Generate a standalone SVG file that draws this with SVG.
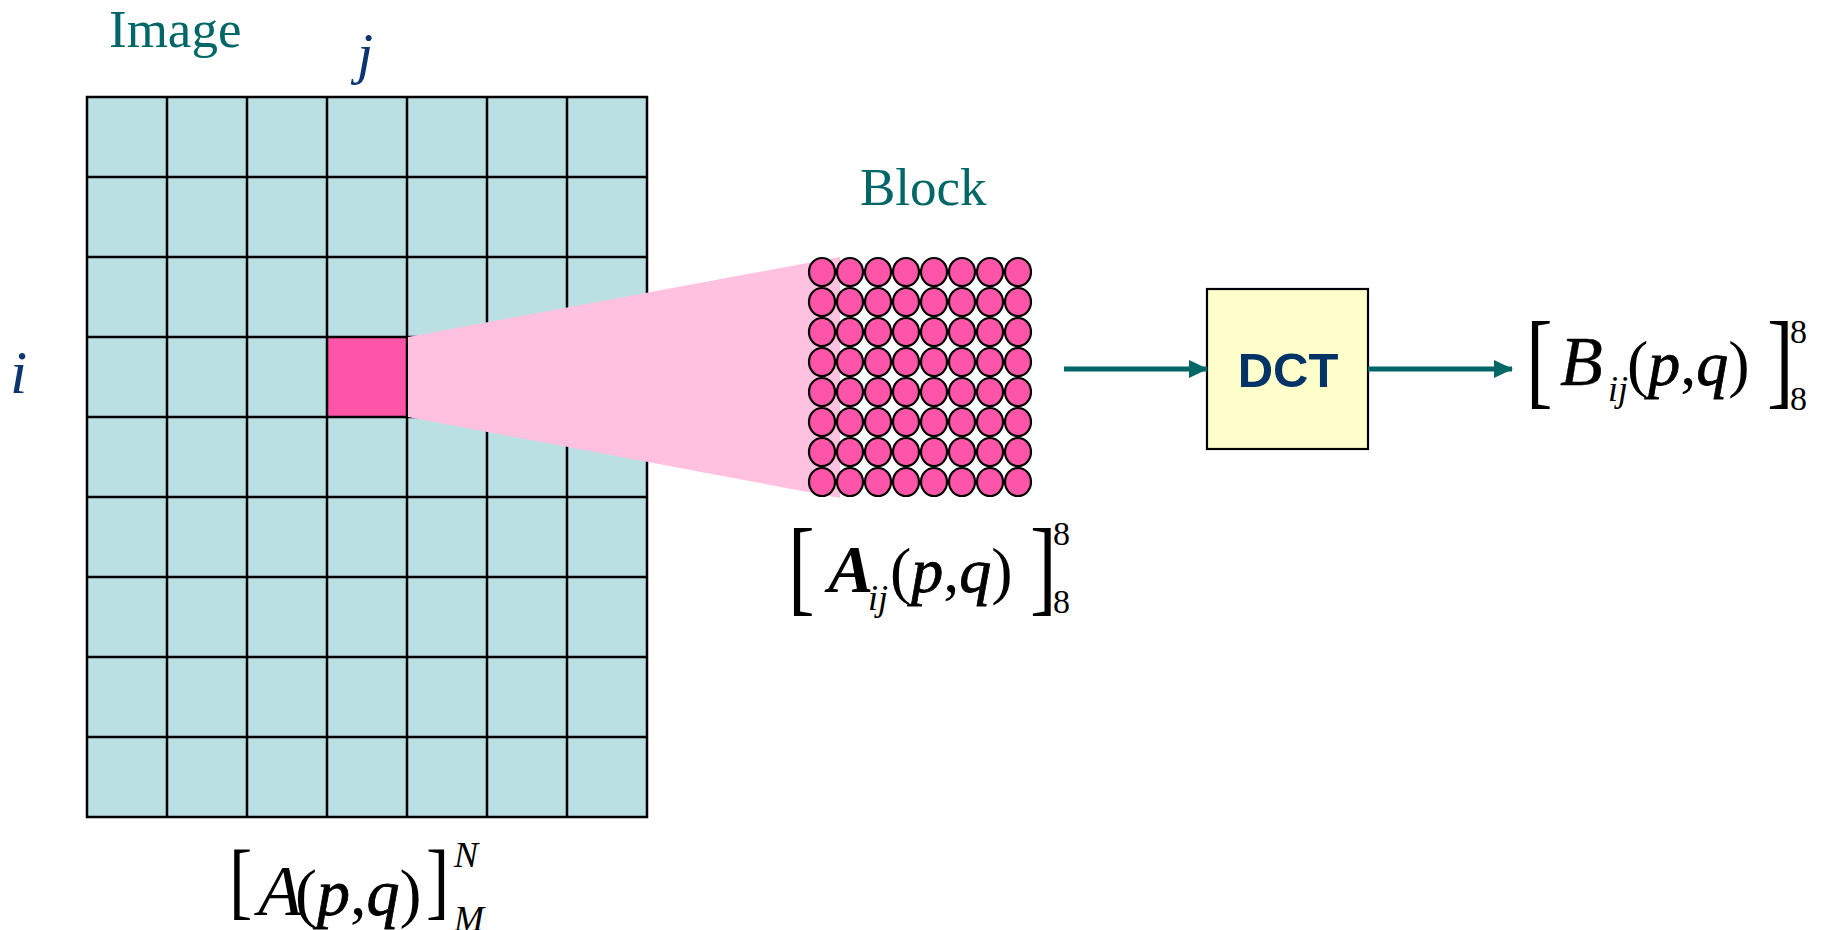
<svg xmlns="http://www.w3.org/2000/svg" width="1824" height="930" viewBox="0 0 1824 930">
  <style>
    .lbl { font-family: "Liberation Serif", "Times New Roman", serif; fill: #006666; font-size: 53px; }
    .idx { font-family: "Liberation Serif", "Times New Roman", serif; font-style: italic; fill: #0A3570; }
    .m { font-family: "Liberation Serif", "Times New Roman", serif; fill: #000; }
    .it { font-style: italic; }
    .pq { font-style: italic; stroke: #000; stroke-width: 0.8; }
    .bi { font-style: italic; font-weight: bold; }
    .grid { stroke: #000; stroke-width: 2.5; fill: none; }
    .dot { fill: #FF55A8; stroke: #000; stroke-width: 2.2; }
    .conn { stroke: #006666; stroke-width: 5; fill: none; }
  </style>
  <defs>
    <marker id="arrow" markerUnits="userSpaceOnUse" markerWidth="20" markerHeight="18" refX="18" refY="9" orient="auto">
      <path d="M0,0 L19,9 L0,18 Z" fill="#006666"/>
    </marker>
  </defs>
  <rect width="1824" height="930" fill="#fff"/>

  <g id="image-grid">
    <rect x="87" y="97" width="560" height="720" fill="#BBE0E3"/>
    <rect id="selected-block" x="327" y="337" width="80" height="80" fill="#FF55A8"/>
    <path class="grid" d="M87,97 H647 V817 H87 Z
      M167,97 V817 M247,97 V817 M327,97 V817 M407,97 V817 M487,97 V817 M567,97 V817
      M87,177 H647 M87,257 H647 M87,337 H647 M87,417 H647 M87,497 H647 M87,577 H647 M87,657 H647 M87,737 H647"/>
  </g>

  <g id="zoom-cone">
    <polygon points="408,337 840,257 840,498 408,417" fill="#FFC1DF"/>
  </g>

  <g id="block">
    <g id="block-pixels">
      <ellipse class="dot" cx="822" cy="272" rx="13" ry="14"/><ellipse class="dot" cx="850" cy="272" rx="13" ry="14"/><ellipse class="dot" cx="878" cy="272" rx="13" ry="14"/><ellipse class="dot" cx="906" cy="272" rx="13" ry="14"/><ellipse class="dot" cx="934" cy="272" rx="13" ry="14"/><ellipse class="dot" cx="962" cy="272" rx="13" ry="14"/><ellipse class="dot" cx="990" cy="272" rx="13" ry="14"/><ellipse class="dot" cx="1018" cy="272" rx="13" ry="14"/>
      <ellipse class="dot" cx="822" cy="302" rx="13" ry="14"/><ellipse class="dot" cx="850" cy="302" rx="13" ry="14"/><ellipse class="dot" cx="878" cy="302" rx="13" ry="14"/><ellipse class="dot" cx="906" cy="302" rx="13" ry="14"/><ellipse class="dot" cx="934" cy="302" rx="13" ry="14"/><ellipse class="dot" cx="962" cy="302" rx="13" ry="14"/><ellipse class="dot" cx="990" cy="302" rx="13" ry="14"/><ellipse class="dot" cx="1018" cy="302" rx="13" ry="14"/>
      <ellipse class="dot" cx="822" cy="332" rx="13" ry="14"/><ellipse class="dot" cx="850" cy="332" rx="13" ry="14"/><ellipse class="dot" cx="878" cy="332" rx="13" ry="14"/><ellipse class="dot" cx="906" cy="332" rx="13" ry="14"/><ellipse class="dot" cx="934" cy="332" rx="13" ry="14"/><ellipse class="dot" cx="962" cy="332" rx="13" ry="14"/><ellipse class="dot" cx="990" cy="332" rx="13" ry="14"/><ellipse class="dot" cx="1018" cy="332" rx="13" ry="14"/>
      <ellipse class="dot" cx="822" cy="362" rx="13" ry="14"/><ellipse class="dot" cx="850" cy="362" rx="13" ry="14"/><ellipse class="dot" cx="878" cy="362" rx="13" ry="14"/><ellipse class="dot" cx="906" cy="362" rx="13" ry="14"/><ellipse class="dot" cx="934" cy="362" rx="13" ry="14"/><ellipse class="dot" cx="962" cy="362" rx="13" ry="14"/><ellipse class="dot" cx="990" cy="362" rx="13" ry="14"/><ellipse class="dot" cx="1018" cy="362" rx="13" ry="14"/>
      <ellipse class="dot" cx="822" cy="392" rx="13" ry="14"/><ellipse class="dot" cx="850" cy="392" rx="13" ry="14"/><ellipse class="dot" cx="878" cy="392" rx="13" ry="14"/><ellipse class="dot" cx="906" cy="392" rx="13" ry="14"/><ellipse class="dot" cx="934" cy="392" rx="13" ry="14"/><ellipse class="dot" cx="962" cy="392" rx="13" ry="14"/><ellipse class="dot" cx="990" cy="392" rx="13" ry="14"/><ellipse class="dot" cx="1018" cy="392" rx="13" ry="14"/>
      <ellipse class="dot" cx="822" cy="422" rx="13" ry="14"/><ellipse class="dot" cx="850" cy="422" rx="13" ry="14"/><ellipse class="dot" cx="878" cy="422" rx="13" ry="14"/><ellipse class="dot" cx="906" cy="422" rx="13" ry="14"/><ellipse class="dot" cx="934" cy="422" rx="13" ry="14"/><ellipse class="dot" cx="962" cy="422" rx="13" ry="14"/><ellipse class="dot" cx="990" cy="422" rx="13" ry="14"/><ellipse class="dot" cx="1018" cy="422" rx="13" ry="14"/>
      <ellipse class="dot" cx="822" cy="452" rx="13" ry="14"/><ellipse class="dot" cx="850" cy="452" rx="13" ry="14"/><ellipse class="dot" cx="878" cy="452" rx="13" ry="14"/><ellipse class="dot" cx="906" cy="452" rx="13" ry="14"/><ellipse class="dot" cx="934" cy="452" rx="13" ry="14"/><ellipse class="dot" cx="962" cy="452" rx="13" ry="14"/><ellipse class="dot" cx="990" cy="452" rx="13" ry="14"/><ellipse class="dot" cx="1018" cy="452" rx="13" ry="14"/>
      <ellipse class="dot" cx="822" cy="482" rx="13" ry="14"/><ellipse class="dot" cx="850" cy="482" rx="13" ry="14"/><ellipse class="dot" cx="878" cy="482" rx="13" ry="14"/><ellipse class="dot" cx="906" cy="482" rx="13" ry="14"/><ellipse class="dot" cx="934" cy="482" rx="13" ry="14"/><ellipse class="dot" cx="962" cy="482" rx="13" ry="14"/><ellipse class="dot" cx="990" cy="482" rx="13" ry="14"/><ellipse class="dot" cx="1018" cy="482" rx="13" ry="14"/>
    </g>
    <text class="lbl" x="860" y="205">Block</text>
    <g id="block-formula" class="m">
      <text transform="translate(788,601.6) scale(1,1.314)" font-size="80">[</text>
      <text class="bi" x="828" y="592" font-size="68">A</text>
      <text class="it" x="868" y="610" font-size="36">ij</text>
      <text x="890" y="592" font-size="64">(<tspan class="pq">p</tspan>,<tspan class="pq">q</tspan>)</text>
      <text transform="translate(1030,601.6) scale(1,1.314)" font-size="80">]</text>
      <text x="1053" y="545" font-size="34">8</text>
      <text x="1053" y="613" font-size="34">8</text>
    </g>
  </g>

  <g id="labels">
    <text class="lbl" x="109" y="47">Image</text>
    <text class="idx" x="357" y="73" font-size="58">j</text>
    <text class="idx" x="10" y="393" font-size="62">i</text>
    <g id="image-formula" class="m">
      <text transform="translate(229,908.8) scale(1,1.205)" font-size="70">[</text>
      <text class="it" x="258" y="915" font-size="72">A</text>
      <text x="295" y="915" font-size="66">(<tspan class="pq">p</tspan>,<tspan class="pq">q</tspan>)</text>
      <text transform="translate(426,908.8) scale(1,1.205)" font-size="70">]</text>
      <text class="it" x="454" y="867" font-size="36">N</text>
      <text class="it" x="454" y="931" font-size="36">M</text>
    </g>
  </g>

  <g id="dct">
    <rect x="1207" y="289" width="161" height="160" fill="#FFFFCC" stroke="#000" stroke-width="2.2"/>
    <text x="1288" y="387" text-anchor="middle" font-family="Liberation Sans, Arial, sans-serif" font-weight="bold" font-size="49" fill="#003366">DCT</text>
  </g>

  <g id="output">
    <g class="m">
      <text transform="translate(1526,395.4) scale(1,1.33)" font-size="80">[</text>
      <text class="it" x="1560" y="385" font-size="70" stroke="#000" stroke-width="0.4">B</text>
      <text class="it" x="1608" y="401" font-size="36">ij</text>
      <text x="1627" y="385" font-size="64">(<tspan class="pq">p</tspan>,<tspan class="pq">q</tspan>)</text>
      <text transform="translate(1767,395.4) scale(1,1.33)" font-size="80">]</text>
      <text x="1790" y="343" font-size="34">8</text>
      <text x="1790" y="410" font-size="34">8</text>
    </g>
  </g>

  <g id="connectors">
    <line class="conn" x1="1064" y1="369" x2="1207" y2="369" marker-end="url(#arrow)"/>
    <line class="conn" x1="1368" y1="369" x2="1512" y2="369" marker-end="url(#arrow)"/>
  </g>
</svg>
